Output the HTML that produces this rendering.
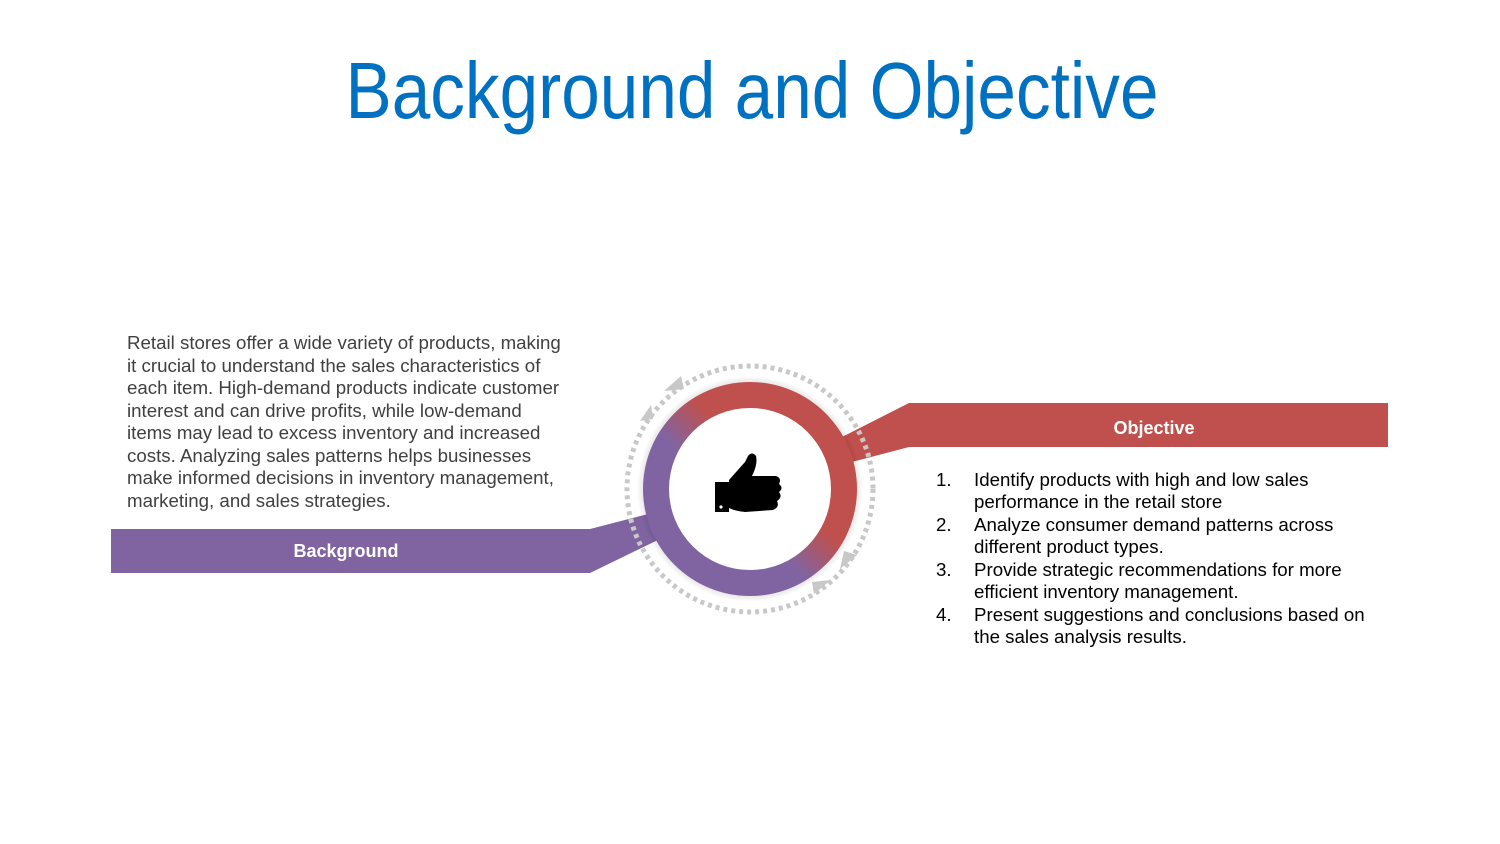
<!DOCTYPE html>
<html><head><meta charset="utf-8"><style>
html,body{margin:0;padding:0;background:#fff;}
svg{display:block;}
text{font-family:"Liberation Sans",Arial,sans-serif;}
</style></head><body>
<svg width="1500" height="844" viewBox="0 0 1500 844" xmlns="http://www.w3.org/2000/svg">
<defs>
<linearGradient id="rg" x1="0" y1="1" x2="1" y2="0">
<stop offset="0.42" stop-color="#8064a2"/>
<stop offset="0.58" stop-color="#c0504d"/>
</linearGradient>
<radialGradient id="sh" cx="0.5" cy="0.5" r="0.5">
<stop offset="0.85" stop-color="#000" stop-opacity="0.25"/>
<stop offset="1" stop-color="#000" stop-opacity="0"/>
</radialGradient>
</defs>
<text x="752" y="118" text-anchor="middle" font-size="80" fill="#0070c0" textLength="813" lengthAdjust="spacingAndGlyphs">Background and Objective</text>

<g font-size="18.7" fill="#404040">
<text x="127" y="349">Retail stores offer a wide variety of products, making</text>
<text x="127" y="372">it crucial to understand the sales characteristics of</text>
<text x="127" y="394">each item. High-demand products indicate customer</text>
<text x="127" y="417">interest and can drive profits, while low-demand</text>
<text x="127" y="439">items may lead to excess inventory and increased</text>
<text x="127" y="462">costs. Analyzing sales patterns helps businesses</text>
<text x="127" y="484">make informed decisions in inventory management,</text>
<text x="127" y="507">marketing, and sales strategies.</text>
</g>

<polygon points="111,529 590,529 652,513 658,540 590,573 111,573" fill="#8064a2"/>
<text x="346" y="557" text-anchor="middle" font-size="18" font-weight="bold" fill="#fff">Background</text>
<polygon points="909,403 1388,403 1388,447 909,447 848,463 842,437" fill="#c0504d"/>
<text x="1154" y="434" text-anchor="middle" font-size="18" font-weight="bold" fill="#fff">Objective</text>

<circle cx="750" cy="489" r="123" fill="none" stroke="#c8c8c8" stroke-width="5" stroke-dasharray="4 4"/>
<polygon points="664,391 681,376 684,389" fill="#c8c8c8"/>
<polygon points="651,405 640,421 653,419" fill="#c8c8c8"/>
<polygon points="840,569 857,555 844,551" fill="#c8c8c8"/>
<polygon points="831,580 814,594 812,582" fill="#c8c8c8"/>
<circle cx="750" cy="489" r="113" fill="url(#sh)"/>
<circle cx="750" cy="489" r="107" fill="url(#rg)"/>
<circle cx="750" cy="489" r="81" fill="#fff"/>
<g fill="#000">
<rect x="715" y="482" width="14" height="30"/>
<path d="M729,480 L745,462 L748,456 Q752,451 756,456 Q758,464 752,476 L776,476 Q782,478 779,484 Q784,488 779,492 Q783,497 777,501 Q780,507 773,510 L745,512 Q735,511 729,508 Z"/>
</g>
<circle cx="721" cy="507" r="1.6" fill="#fff"/>

<g font-size="18.7" fill="#000">
<text x="936" y="486">1.</text><text x="974" y="486">Identify products with high and low sales</text>
<text x="974" y="508">performance in the retail store</text>
<text x="936" y="531">2.</text><text x="974" y="531">Analyze consumer demand patterns across</text>
<text x="974" y="553">different product types.</text>
<text x="936" y="576">3.</text><text x="974" y="576">Provide strategic recommendations for more</text>
<text x="974" y="598">efficient inventory management.</text>
<text x="936" y="621">4.</text><text x="974" y="621">Present suggestions and conclusions based on</text>
<text x="974" y="643">the sales analysis results.</text>
</g>
</svg>
</body></html>
